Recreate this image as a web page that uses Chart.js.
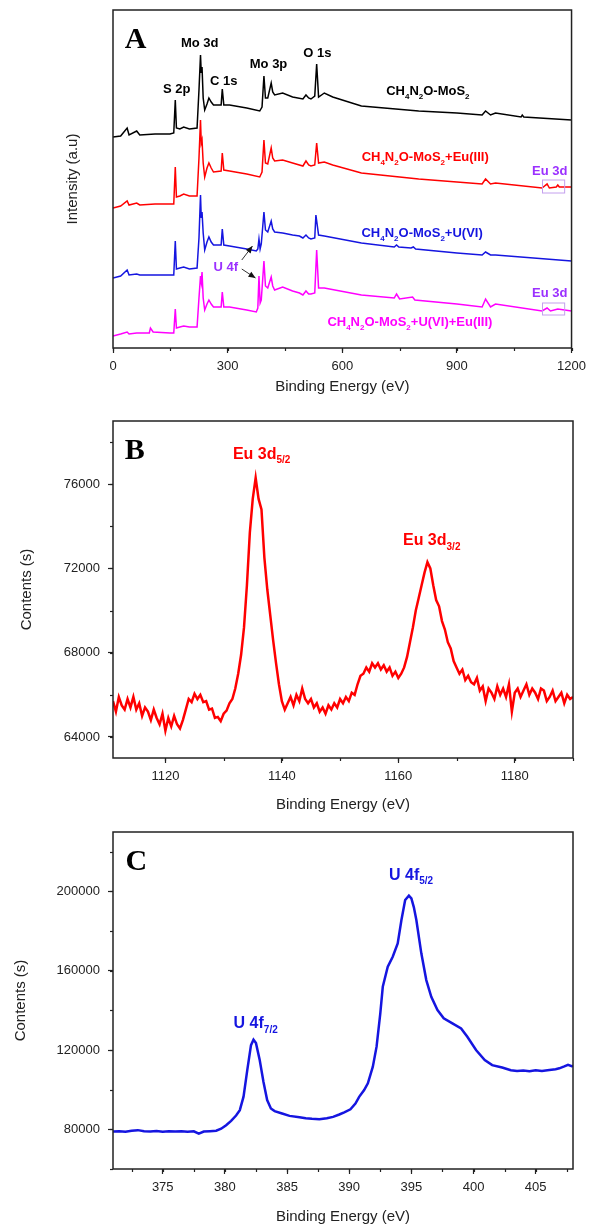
<!DOCTYPE html>
<html>
<head>
<meta charset="utf-8">
<title>XPS spectra</title>
<script src="https://cdn.jsdelivr.net/npm/chart.js@4.4.1/dist/chart.umd.min.js"></script>
<style>
  html, body { margin: 0; padding: 0; background: #fff; }
  #wrap { position: relative; width: 592px; height: 1227px; }
  canvas { position: absolute; left: 0; }
</style>
</head>
<body>
<div id="wrap">
  <canvas id="survey" width="592" height="400" style="top:0"></canvas>
  <canvas id="eu3d" width="592" height="415" style="top:400px"></canvas>
  <canvas id="u4f" width="592" height="412" style="top:815px"></canvas>
</div>
<script>
// survey scans, [binding energy (eV), intensity (a.u., offset per sample)]
const surveyMoS2 = [[0,211],[20,212],[37,220],[42,213],[62,217],[70,213],[110,214],[149,214],[159,215],[163,248],[166,220],[175,219],[185,221],[200,219],[220,220],[225,258],[229,293],[231,275],[233,281],[236,250],[240,238],[246,244],[251,250],[257,246],[263,243],[283,243],[286,259],[290,243],[305,243],[350,240],[384,237],[390,241],[395,272],[399,250],[405,250],[414,265],[418,256],[423,253],[444,255],[470,251],[497,249],[505,253],[512,250],[518,249],[528,252],[533,284],[538,251],[553,255],[575,251],[650,242],[800,237],[900,235],[966,233],[975,237],[988,233],[1001,235],[1068,231],[1071,233],[1075,231],[1200,228]];
const surveyEu = [[0,140],[20,142],[37,147],[42,143],[62,145],[70,143],[110,144],[149,144],[159,144],[163,181],[166,151],[175,152],[185,154],[200,152],[220,152],[225,190],[229,228],[231,205],[233,208],[236,185],[240,171],[246,180],[251,185],[257,180],[263,176],[283,177],[286,195],[290,178],[305,177],[350,174],[384,171],[390,176],[395,208],[399,185],[405,184],[414,200],[418,190],[423,187],[444,188],[470,185],[497,182],[505,187],[512,183],[518,182],[528,183],[533,205],[538,185],[553,186],[575,183],[650,175],[800,169],[900,166],[966,164],[975,169],[988,164],[1001,165],[1123,160],[1136,164],[1142,160],[1160,161],[1164,163],[1168,161],[1200,161]];
const surveyU = [[0,70],[20,72],[37,78],[42,73],[62,74],[70,73],[110,73],[149,73],[159,73],[163,107],[166,79],[175,80],[185,81],[200,79],[220,80],[225,110],[229,153],[231,130],[233,136],[236,115],[240,98],[246,106],[251,111],[257,106],[263,103],[283,103],[286,119],[290,103],[305,102],[350,99],[375,97],[379,99],[382,109],[385,99],[388,104],[392,122],[395,136],[399,118],[405,116],[414,127],[418,119],[423,116],[444,115],[470,113],[488,112],[497,110],[505,113],[512,110],[518,109],[528,110],[531,133],[538,113],[553,112],[650,105],[736,101],[742,103],[748,101],[780,100],[786,101],[792,99],[900,95],[966,93],[975,96],[988,93],[1001,93],[1200,87]];
const surveyUEu = [[0,12],[20,14],[37,16],[42,14],[62,15],[95,15],[98,20],[105,16],[149,15],[159,15],[163,39],[166,20],[175,21],[185,22],[200,21],[220,21],[225,50],[229,72],[231,66],[233,76],[236,50],[240,38],[246,44],[251,48],[257,44],[263,41],[283,41],[286,56],[290,41],[305,41],[350,38],[375,36],[379,40],[382,72],[385,45],[388,48],[392,70],[395,87],[399,62],[405,60],[414,71],[418,62],[423,58],[444,61],[470,57],[488,55],[497,53],[505,57],[512,54],[518,54],[528,55],[533,98],[538,60],[553,60],[650,53],[736,50],[742,54],[750,49],[784,51],[790,48],[900,44],[966,41],[975,49],[988,41],[1001,44],[1123,37],[1136,40],[1145,37],[1164,39],[1200,37]];
const surveyTicks = [0, 300, 600, 900, 1200];

// Eu 3d high resolution scan, [eV, counts]
const eu3d = [[1111,65700],[1111.5,65200],[1112,65900],[1112.5,65500],[1113,65300],[1113.5,65800],[1114,65400],[1114.5,65900],[1115,65300],[1115.5,65600],[1116,65000],[1116.5,65400],[1117,65200],[1117.5,64800],[1118,65300],[1118.5,64900],[1119,64600],[1119.5,65100],[1120,64300],[1120.5,64900],[1121,64500],[1121.5,65000],[1122,64600],[1122.5,64400],[1123,64800],[1123.5,65300],[1124,65800],[1124.5,65650],[1125,66050],[1125.5,65800],[1126,66000],[1126.5,65650],[1127,65700],[1127.5,65300],[1128,65350],[1128.5,64900],[1129,64950],[1129.5,64750],[1130,65100],[1130.5,65250],[1131,65600],[1131.5,65800],[1132,66300],[1132.5,67000],[1133,67900],[1133.5,69200],[1134,71200],[1134.5,73700],[1135,75300],[1135.5,76300],[1136,75300],[1136.5,74800],[1137,72500],[1137.5,71000],[1138,69800],[1138.5,68600],[1139,67500],[1139.5,66500],[1140,65700],[1140.5,65300],[1141,65600],[1141.5,65900],[1142,65500],[1142.5,66000],[1143,65700],[1143.5,66300],[1144,65800],[1144.5,65600],[1145,65800],[1145.5,65400],[1146,65600],[1146.5,65200],[1147,65400],[1147.5,65100],[1148,65500],[1148.5,65300],[1149,65600],[1149.5,65400],[1150,65800],[1150.5,65600],[1151,65900],[1151.5,65700],[1152,66100],[1152.5,66000],[1153,66500],[1153.5,66900],[1154,67000],[1154.5,67300],[1155,67100],[1155.5,67500],[1156,67300],[1156.5,67500],[1157,67200],[1157.5,67400],[1158,67100],[1158.5,67300],[1159,66900],[1159.5,67100],[1160,66800],[1160.5,67000],[1161,67300],[1161.5,67800],[1162,68500],[1162.5,69200],[1163,70000],[1163.5,70600],[1164,71200],[1164.5,71800],[1165,72300],[1165.5,72000],[1166,71200],[1166.5,70500],[1167,70200],[1167.5,69500],[1168,69100],[1168.5,68500],[1169,68200],[1169.5,67600],[1170,67300],[1170.5,67000],[1171,67200],[1171.5,66700],[1172,66900],[1172.5,66600],[1173,66500],[1173.5,66800],[1174,66200],[1174.5,66400],[1175,65700],[1175.5,66300],[1176,66100],[1176.5,65800],[1177,66400],[1177.5,66000],[1178,66300],[1178.5,65900],[1179,66500],[1179.5,65200],[1180,66100],[1180.5,66300],[1181,65900],[1181.5,66200],[1182,66500],[1182.5,66000],[1183,66300],[1183.5,66100],[1184,65800],[1184.5,66300],[1185,66200],[1185.5,65700],[1186,65900],[1186.5,66200],[1187,65700],[1187.5,65900],[1188,66100],[1188.5,65600],[1189,66000],[1189.5,65800],[1190,65900]];
const eu3dTicksX = [1120, 1140, 1160, 1180];
const eu3dTicksY = [64000, 68000, 72000, 76000];

// U 4f high resolution scan, [eV, counts]
const u4f = [[371,78900],[371.5,79100],[372,78800],[372.5,79300],[373,79600],[373.5,79000],[374,78900],[374.5,79200],[375,78800],[375.5,79000],[376,78900],[376.5,79100],[377,78800],[377.5,79000],[377.9,77800],[378.3,78900],[378.8,79100],[379.3,79300],[379.7,80300],[380.1,82100],[380.5,84300],[380.9,87000],[381.2,89700],[381.5,96500],[381.8,109900],[382.1,122500],[382.3,125200],[382.5,123500],[382.8,115000],[383.1,104000],[383.4,94800],[383.7,90500],[384,89200],[384.6,88000],[385.2,86800],[386,86100],[386.5,85600],[387,85300],[387.6,85100],[388.2,85600],[388.7,86300],[389.2,87500],[389.6,88600],[390.1,90100],[390.5,93000],[390.8,96400],[391.2,99800],[391.5,103200],[391.9,111600],[392.2,121700],[392.5,138500],[392.7,151900],[393.1,162000],[393.5,167100],[393.9,173800],[394.2,185600],[394.5,195700],[394.8,197900],[395,196500],[395.2,192000],[395.4,185600],[395.8,168800],[396.2,155300],[396.6,146900],[397.1,140200],[397.6,136000],[398.3,133500],[399,130900],[399.5,126700],[400.2,120000],[400.9,115000],[401.5,112400],[402.3,111200],[403,109800],[403.5,109400],[404,109700],[404.5,109300],[405,109800],[405.5,109500],[406.1,109900],[406.6,110300],[406.9,110800],[407.3,111800],[407.6,112600],[407.9,111900],[408,112000]];
const u4fTicksX = [375, 380, 385, 390, 395, 400, 405];
const u4fTicksY = [80000, 120000, 160000, 200000];

const RED = '#ff0000', BLUE = '#1515e0', MAGENTA = '#ff00ff', PURPLE = '#9b30ff';
const SANS = '"Liberation Sans", Arial, sans-serif';
const SERIF = '"Liberation Serif", "Times New Roman", serif';

Chart.defaults.font.family = SANS;
Chart.defaults.color = '#222';

// text with _{...} parts set as subscripts
function drawRich(ctx, n, px, py) {
  const fam = n.serif ? SERIF : SANS;
  const main = `bold ${n.size}px ${fam}`;
  const sub = `bold ${Math.round(n.size * 0.62)}px ${fam}`;
  const parts = n.text.split(/_\{([^}]*)\}/);
  let w = 0;
  parts.forEach((t, i) => { ctx.font = i % 2 ? sub : main; w += ctx.measureText(t).width; });
  let cx = n.align === 'left' ? px : px - w / 2;
  ctx.fillStyle = n.color || '#000';
  ctx.textAlign = 'left';
  ctx.textBaseline = 'alphabetic';
  parts.forEach((t, i) => {
    ctx.font = i % 2 ? sub : main;
    ctx.fillText(t, cx, py + (i % 2 ? n.size * 0.28 : 0));
    cx += ctx.measureText(t).width;
  });
}

function notesPlugin(items) {
  return {
    id: 'notes',
    afterDatasetsDraw(chart) {
      const { ctx, scales: { x, y } } = chart;
      ctx.save();
      for (const n of items) {
        if (n.box) {
          const [x1, x2, y1, y2] = n.box;
          const l = x.getPixelForValue(x1), r = x.getPixelForValue(x2);
          const t = y.getPixelForValue(y1), b = y.getPixelForValue(y2);
          ctx.strokeStyle = '#c4a0ee';
          ctx.lineWidth = 1;
          ctx.strokeRect(l, t, r - l, b - t);
        } else if (n.arrow) {
          const [x1, y1, x2, y2] = n.arrow;
          const ax = x.getPixelForValue(x1), ay = y.getPixelForValue(y1);
          const bx = x.getPixelForValue(x2), by = y.getPixelForValue(y2);
          const ang = Math.atan2(by - ay, bx - ax);
          ctx.strokeStyle = '#333';
          ctx.fillStyle = '#111';
          ctx.lineWidth = 1;
          ctx.beginPath(); ctx.moveTo(ax, ay); ctx.lineTo(bx, by); ctx.stroke();
          ctx.beginPath();
          ctx.moveTo(bx, by);
          ctx.lineTo(bx - 7 * Math.cos(ang) + 3 * Math.sin(ang), by - 7 * Math.sin(ang) - 3 * Math.cos(ang));
          ctx.lineTo(bx - 7 * Math.cos(ang) - 3 * Math.sin(ang), by - 7 * Math.sin(ang) + 3 * Math.cos(ang));
          ctx.closePath(); ctx.fill();
        } else {
          drawRich(ctx, n, x.getPixelForValue(n.x), y.getPixelForValue(n.y));
        }
      }
      ctx.restore();
    }
  };
}

// box round the plot area plus short minor ticks
function framePlugin(minor) {
  return {
    id: 'frame',
    afterDraw(chart) {
      const { ctx, chartArea: a, scales } = chart;
      ctx.save();
      ctx.strokeStyle = '#222';
      ctx.lineWidth = 1.2;
      for (const id in minor) {
        const s = scales[id], step = minor[id];
        for (let v = Math.ceil(s.min / step) * step; v <= s.max; v += step) {
          const p = Math.round(s.getPixelForValue(v)) + 0.5;
          ctx.beginPath();
          if (s.isHorizontal()) { ctx.moveTo(p, a.bottom); ctx.lineTo(p, a.bottom + 3); }
          else { ctx.moveTo(a.left, p); ctx.lineTo(a.left - 3, p); }
          ctx.stroke();
        }
      }
      ctx.lineWidth = 1.5;
      ctx.strokeRect(a.left, a.top, a.right - a.left, a.bottom - a.top);
      ctx.restore();
    }
  };
}

const tickList = list => s => { s.ticks = list.map(value => ({ value })); };

function xAxis(min, max, ticks, gap, titlePad) {
  return {
    type: 'linear', min, max,
    border: { display: false },
    grid: { drawOnChartArea: false, tickLength: 5, tickColor: '#222', tickWidth: 1.2 },
    ticks: { padding: 6, maxRotation: 0, autoSkip: false,
             color: '#222', font: { size: 13 }, callback: v => String(v) },
    afterBuildTicks: tickList(ticks),
    title: { display: true, text: 'Binding Energy (eV)', color: '#222', font: { size: 15 },
             padding: { top: 0, bottom: titlePad } },
    afterFit: s => { s.height = gap; }
  };
}

function yAxis(min, max, ticks, title, titlePad) {
  const show = ticks.length > 0;
  return {
    type: 'linear', min, max,
    border: { display: false },
    grid: { drawOnChartArea: false, drawTicks: show, tickLength: 5, tickColor: '#222', tickWidth: 1.2 },
    ticks: { display: show, padding: 8, color: '#222', font: { size: 13 }, callback: v => String(v) },
    afterBuildTicks: tickList(ticks),
    title: { display: true, text: title, color: '#222', font: { size: 15 },
             padding: { top: titlePad, bottom: 0 } },
    afterFit: s => { s.width = 113; }
  };
}

function line(data, color, width) {
  return { data, borderColor: color, borderWidth: width, pointRadius: 0, tension: 0, fill: false };
}

function spectrum(id, datasets, top, x, y, minor, notes) {
  return new Chart(document.getElementById(id), {
    type: 'line',
    data: { datasets },
    options: {
      responsive: false, animation: false, events: [],
      layout: { padding: { left: 0, right: 19, top, bottom: 0 } },
      plugins: { legend: { display: false }, tooltip: { enabled: false } },
      scales: { x, y }
    },
    plugins: [framePlugin(minor), notesPlugin(notes)]
  });
}

const formula = 'CH_{4}N_{2}O-MoS_{2}';

spectrum('survey',
  [line(surveyMoS2, '#000', 1.5), line(surveyEu, RED, 1.5), line(surveyU, BLUE, 1.5), line(surveyUEu, MAGENTA, 1.5)],
  10, xAxis(0, 1200, surveyTicks, 52, 4), yAxis(0, 338, [], 'Intensity (a.u)', 64), { x: 150 },
  [
    { text: 'A', x: 31, y: 300, size: 30, serif: true, align: 'left' },
    { text: 'Mo 3d', x: 227, y: 301, size: 13 },
    { text: 'S 2p', x: 167, y: 255, size: 13 },
    { text: 'C 1s', x: 290, y: 263, size: 13 },
    { text: 'Mo 3p', x: 407, y: 280, size: 13 },
    { text: 'O 1s', x: 535, y: 291, size: 13 },
    { text: formula, x: 824, y: 253, size: 13 },
    { text: formula + '+Eu(III)', x: 817, y: 187, size: 13, color: RED },
    { text: 'Eu 3d', x: 1143, y: 173, size: 13, color: PURPLE },
    { box: [1124, 1182, 168, 155] },
    { text: formula + '+U(VI)', x: 809, y: 111, size: 13, color: BLUE },
    { text: formula + '+U(VI)+Eu(III)', x: 777, y: 22, size: 13, color: MAGENTA },
    { text: 'Eu 3d', x: 1143, y: 51, size: 13, color: PURPLE },
    { box: [1124, 1182, 45, 33] },
    { text: 'U 4f', x: 295, y: 77, size: 13, color: PURPLE },
    { arrow: [337, 88, 365, 102] },
    { arrow: [337, 79, 373, 70] }
  ]);

spectrum('eu3d', [line(eu3d, RED, 2.5)],
  21, xAxis(1111, 1190, eu3dTicksX, 57, 1), yAxis(63000, 79000, eu3dTicksY, 'Contents (s)', 18), { x: 10, y: 2000 },
  [
    { text: 'B', x: 1113, y: 77200, size: 30, serif: true, align: 'left' },
    { text: 'Eu 3d_{5/2}', x: 1131.6, y: 77200, size: 16, color: RED, align: 'left' },
    { text: 'Eu 3d_{3/2}', x: 1160.8, y: 73100, size: 16, color: RED, align: 'left' }
  ]);

spectrum('u4f', [line(u4f, BLUE, 2.5)],
  17, xAxis(371, 408, u4fTicksX, 58, 1), yAxis(60000, 230000, u4fTicksY, 'Contents (s)', 12), { x: 2.5, y: 20000 },
  [
    { text: 'C', x: 372, y: 210800, size: 30, serif: true, align: 'left' },
    { text: 'U 4f_{7/2}', x: 380.7, y: 131100, size: 16, color: BLUE, align: 'left' },
    { text: 'U 4f_{5/2}', x: 393.2, y: 205800, size: 16, color: BLUE, align: 'left' }
  ]);
</script>
</body>
</html>
